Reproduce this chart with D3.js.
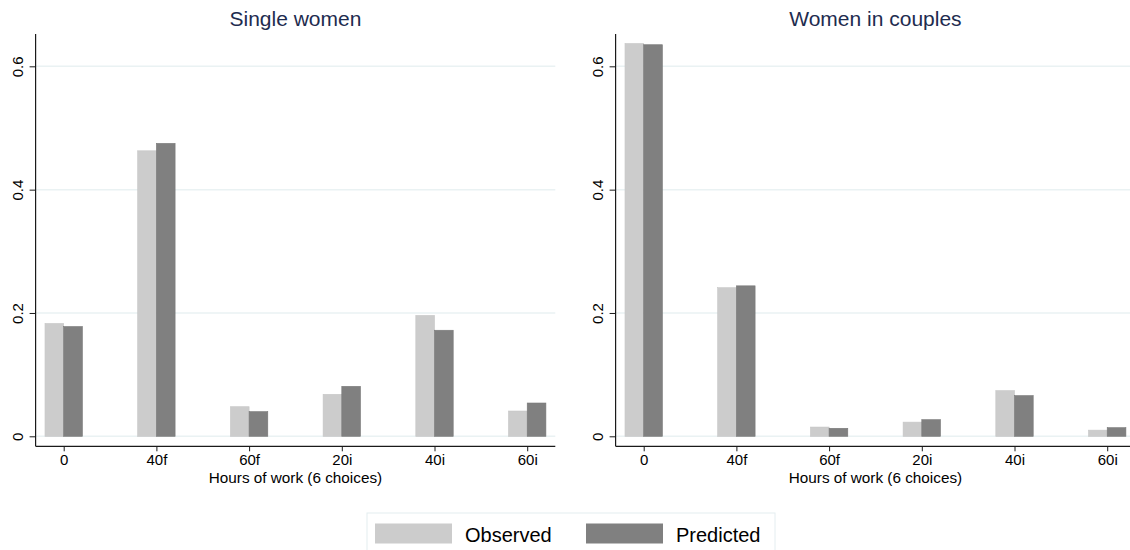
<!DOCTYPE html>
<html>
<head>
<meta charset="utf-8">
<script src="https://cdn.jsdelivr.net/npm/d3@7"></script>
<style>
  html, body { margin: 0; padding: 0; background: #ffffff; }
  svg { display: block; font-family: "Liberation Sans", Arial, sans-serif; }
</style>
</head>
<body>
<svg id="chart" width="1130" height="550"></svg>
<script>
// ---- data ----
const categories = ["0", "40f", "60f", "20i", "40i", "60i"];
const panelTitles = ["Single women", "Women in couples"];
const singleObserved  = [0.183, 0.463, 0.048, 0.068, 0.196, 0.041];
const singlePredicted = [0.178, 0.475, 0.040, 0.081, 0.172, 0.054];
const coupleObserved  = [0.637, 0.241, 0.015, 0.023, 0.074, 0.010];
const couplePredicted = [0.635, 0.244, 0.013, 0.027, 0.066, 0.014];
const yTicks = [0, 0.2, 0.4, 0.6];
const yTickLabels = ["0", "0.2", "0.4", "0.6"];
const seriesNames = ["Observed", "Predicted"];
const xTitle = "Hours of work (6 choices)";

// ---- styles ----
const colObs = "#cccccc", colPred = "#808080";
const gridCol = "#eaf2f3", axisCol = "#1a1a1a";
const titleCol = "#1e2c4f";

const svg = d3.select("#chart");

const panels = [
  { title: panelTitles[0], obs: singleObserved, pred: singlePredicted, x0: 35.6, x1: 555.3, lineEnd: 555.3 },
  { title: panelTitles[1], obs: coupleObserved, pred: couplePredicted, x0: 615.6, x1: 1135.3, lineEnd: 1135.3 }
];

const y = d3.scaleLinear().domain([-0.0162, 0.6524]).range([446.3, 34]);
const barW = 18.7;

panels.forEach(p => {
  const g = svg.append("g");
  const x = d3.scalePoint().domain(categories).range([p.x0, p.x1]).padding(0.303);

  // gridlines
  g.selectAll("line.grid").data(yTicks).enter().append("line")
    .attr("x1", p.x0).attr("x2", p.lineEnd)
    .attr("y1", d => y(d)).attr("y2", d => y(d))
    .attr("stroke", gridCol).attr("stroke-width", 1.5);

  // bars
  const rows = categories.map((c, i) => ({ c, o: p.obs[i], pr: p.pred[i] }));
  g.selectAll("rect.obs").data(rows).enter().append("rect")
    .attr("x", d => x(d.c) - barW).attr("width", barW)
    .attr("y", d => y(d.o)).attr("height", d => y(0) - y(d.o))
    .attr("fill", colObs).attr("stroke", "#c6c6c6").attr("stroke-width", 0.6);
  g.selectAll("rect.pred").data(rows).enter().append("rect")
    .attr("x", d => x(d.c)).attr("width", barW)
    .attr("y", d => y(d.pr)).attr("height", d => y(0) - y(d.pr))
    .attr("fill", colPred).attr("stroke", "#777777").attr("stroke-width", 0.6);

  // y axis
  const yAxis = d3.axisLeft(y).tickValues(yTicks).tickSize(6).tickFormat((d, i) => yTickLabels[i]);
  const ya = g.append("g").attr("transform", `translate(${p.x0},0)`).call(yAxis);
  ya.select(".domain").attr("stroke", axisCol).attr("stroke-width", 1.2).attr("d", `M0,${y.range()[0]}V${y.range()[1]}`);
  ya.selectAll(".tick line").attr("stroke", axisCol).attr("stroke-width", 1);
  ya.selectAll(".tick text")
    .attr("font-size", 15).attr("fill", "#000")
    .attr("text-anchor", "middle")
    .attr("x", null).attr("dy", null)
    .attr("transform", "translate(-12.5,0) rotate(-90)");

  // x axis
  const xAxis = d3.axisBottom(x).tickSize(5).tickSizeOuter(0);
  const xa = g.append("g").attr("transform", `translate(0,${y.range()[0]})`).call(xAxis);
  xa.select(".domain").attr("stroke", axisCol).attr("stroke-width", 1.2)
    .attr("d", `M${p.x0},0H${p.lineEnd}`);
  xa.selectAll(".tick line").attr("stroke", axisCol).attr("stroke-width", 1);
  xa.selectAll(".tick text").attr("font-size", 15).attr("fill", "#000").attr("y", 8.5).attr("dy", "0.71em");

  // x title
  g.append("text").attr("x", (p.x0 + p.x1) / 2).attr("y", 483)
    .attr("text-anchor", "middle").attr("font-size", 15.3).attr("fill", "#000").text(xTitle);

  // panel title
  g.append("text").attr("x", (p.x0 + p.x1) / 2).attr("y", 26)
    .attr("text-anchor", "middle").attr("font-size", 21).attr("fill", titleCol).text(p.title);
});

// ---- legend ----
const leg = svg.append("g");
leg.append("rect").attr("x", 367).attr("y", 513).attr("width", 408).attr("height", 50)
  .attr("fill", "#fff").attr("stroke", "#e4edf0").attr("stroke-width", 1);
const legItems = [
  { name: seriesNames[0], col: colObs, sx: 375, tx: 465 },
  { name: seriesNames[1], col: colPred, sx: 586, tx: 676 }
];
legItems.forEach(it => {
  leg.append("rect").attr("x", it.sx).attr("y", 523.5).attr("width", 77).attr("height", 20).attr("fill", it.col);
  leg.append("text").attr("x", it.tx).attr("y", 542).attr("font-size", 20).attr("fill", "#000").text(it.name);
});
</script>
</body>
</html>
